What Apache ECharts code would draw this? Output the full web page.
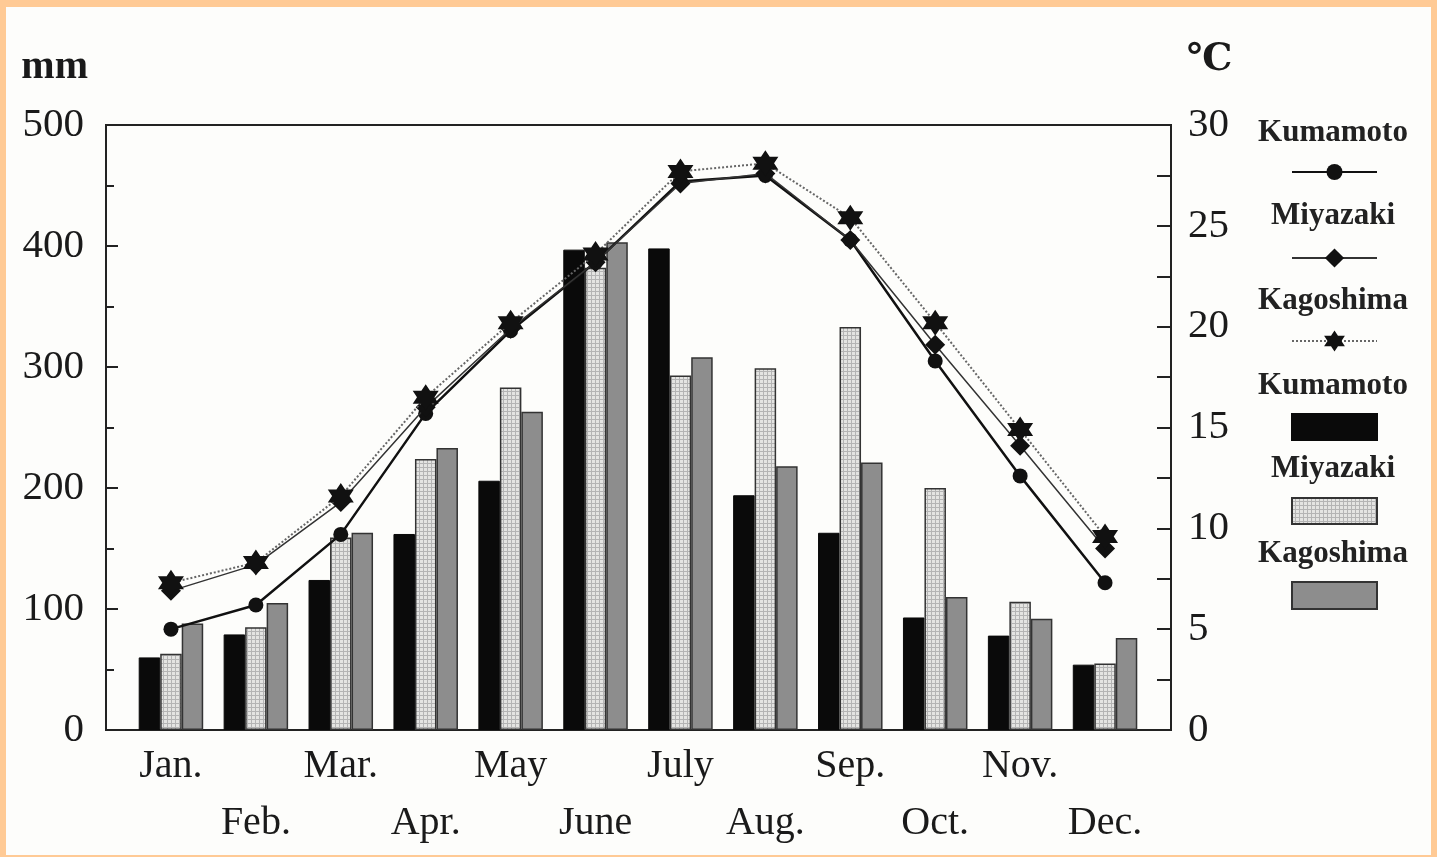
<!DOCTYPE html>
<html lang="en">
<head>
    <meta charset="UTF-8">
    <title>Rainfall and temperature - Kumamoto, Miyazaki, Kagoshima</title>
    <script src="https://cdn.jsdelivr.net/npm/echarts@6/dist/echarts.min.js"></script>
    <style>
        body { margin: 0; background: #ffca95; }
        #paper { position: absolute; left: 6px; top: 7px; width: 1425px; height: 848px; background: #fdfdfb; }
        #main { position: absolute; left: 0; top: 0; width: 1437px; height: 857px; }
    </style>
</head>
<body>
    <div id="paper"></div>
    <div id="main"></div>
    <script>
        // months (x axis)
        var months = ['Jan.', 'Feb.', 'Mar.', 'Apr.', 'May', 'June', 'July', 'Aug.', 'Sep.', 'Oct.', 'Nov.', 'Dec.'];

        // precipitation, mm (bars, left axis)
        var rainKumamoto = [60, 79, 124, 162, 206, 397, 398, 194, 163, 93, 78, 54];
        var rainMiyazaki = [63, 85, 159, 224, 283, 382, 293, 299, 333, 200, 106, 55];
        var rainKagoshima = [88, 105, 163, 233, 263, 403, 308, 218, 221, 110, 92, 76];

        // mean temperature, °C (lines, right axis)
        var tempKumamoto = [5.0, 6.2, 9.7, 15.7, 19.8, 23.2, 27.2, 27.5, 24.3, 18.3, 12.6, 7.3];
        var tempMiyazaki = [6.9, 8.2, 11.3, 16.0, 19.9, 23.2, 27.1, 27.6, 24.3, 19.1, 14.1, 9.0];
        var tempKagoshima = [7.3, 8.3, 11.6, 16.5, 20.2, 23.6, 27.7, 28.1, 25.4, 20.2, 14.9, 9.6];

        var rainTicks = [0, 100, 200, 300, 400, 500];
        var tempTicks = [0, 5, 10, 15, 20, 25, 30];

        var font = '"Liberation Serif", "DejaVu Serif", serif';
        var ink = '#1a1a1a';

        // fine grid fill like the screened bars
        var pat = document.createElement('canvas');
        pat.width = 4; pat.height = 4;
        var pc = pat.getContext('2d');
        pc.fillStyle = '#e4e4e2';
        pc.fillRect(0, 0, 4, 4);
        pc.fillStyle = '#b4b4b4';
        pc.fillRect(0, 3, 4, 1);
        pc.fillRect(3, 0, 1, 4);

        var star = 'path://M0,-10 L2.9,-5 L8.66,-5 L5.8,0 L8.66,5 L2.9,5 L0,10 L-2.9,5 L-8.66,5 L-5.8,0 L-8.66,-5 L-2.9,-5 Z';

        var myChart = echarts.init(document.getElementById('main'));

        function legendBox(name, top, h, icon) {
            var l = {
                data: [name], left: 1291, top: top, padding: 0,
                itemWidth: 85, itemHeight: h, formatter: function () { return ''; },
                selectedMode: false
            };
            if (icon) l.icon = icon;
            return l;
        }

        function label(txt, y) {
            return {
                type: 'text', x: 1333, y: y,
                style: { text: txt, font: 'bold 31px ' + font, fill: '#222', align: 'center', verticalAlign: 'middle' }
            };
        }

        var option = {
            animation: false,
            grid: [
                { left: 106, top: 125, width: 1065, height: 605, show: true, borderColor: '#222', borderWidth: 2, backgroundColor: 'transparent' },
                { left: 128.5, top: 125, width: 1019, height: 605 }
            ],
            xAxis: [
                { gridIndex: 0, type: 'value', min: 0, max: 1, show: false },
                {
                    gridIndex: 1, type: 'category', data: months,
                    axisLine: { show: false }, axisTick: { show: false },
                    axisLabel: {
                        interval: 0, margin: 8, color: ink, fontFamily: font, fontSize: 40, lineHeight: 57,
                        formatter: function (v, i) { return i % 2 ? '\n' + v : v; }
                    }
                }
            ],
            yAxis: [
                {
                    gridIndex: 0, type: 'value', min: rainTicks[0], max: rainTicks[rainTicks.length - 1], interval: 100,
                    name: 'mm', nameLocation: 'end', nameGap: 57,
                    nameTextStyle: { color: ink, fontFamily: font, fontSize: 40, fontWeight: 'bold', align: 'right', verticalAlign: 'middle', padding: [0, 18, 0, 0] },
                    axisLine: { show: true, lineStyle: { color: '#222', width: 2 } },
                    axisTick: { show: true, inside: true, length: 12, lineStyle: { color: '#222', width: 2 } },
                    minorTick: { show: true, splitNumber: 2, length: 8, lineStyle: { color: '#222', width: 2 } },
                    splitLine: { show: false },
                    axisLabel: { margin: 22, color: ink, fontFamily: font, fontSize: 41 }
                },
                {
                    gridIndex: 0, type: 'value', position: 'right', min: tempTicks[0], max: tempTicks[tempTicks.length - 1], interval: 5,
                    name: '℃', nameLocation: 'end', nameGap: 65,
                    nameTextStyle: { color: ink, fontFamily: font, fontSize: 38, fontWeight: 'bold', align: 'left', verticalAlign: 'middle', padding: [0, 0, 0, 16] },
                    axisLine: { show: true, lineStyle: { color: '#222', width: 2 } },
                    axisTick: { show: true, inside: true, length: 14, lineStyle: { color: '#222', width: 2 } },
                    minorTick: { show: true, splitNumber: 2, length: 14, lineStyle: { color: '#222', width: 2 } },
                    splitLine: { show: false },
                    axisLabel: { margin: 17, color: ink, fontFamily: font, fontSize: 41 }
                },
                { gridIndex: 1, type: 'value', min: 0, max: 500, show: false, splitLine: { show: false } },
                { gridIndex: 1, type: 'value', min: 0, max: 30, show: false, splitLine: { show: false } }
            ],
            legend: [
                legendBox('Kumamoto ', 162, 20),
                legendBox('Miyazaki ', 246, 24),
                legendBox('Kagoshima ', 328, 26),
                legendBox('Kumamoto', 413, 26, 'rect'),
                legendBox('Miyazaki', 497, 26, 'rect'),
                legendBox('Kagoshima', 581, 27, 'rect')
            ],
            graphic: [
                label('Kumamoto', 133),
                label('Miyazaki', 216),
                label('Kagoshima', 301),
                label('Kumamoto', 386),
                label('Miyazaki', 469),
                label('Kagoshima', 554)
            ],
            series: [
                {
                    name: 'Kumamoto', type: 'bar', xAxisIndex: 1, yAxisIndex: 2, data: rainKumamoto,
                    barWidth: 21.5, barGap: '0%',
                    itemStyle: { color: '#0a0a0a', borderColor: '#0a0a0a', borderWidth: 1 }
                },
                {
                    name: 'Miyazaki', type: 'bar', xAxisIndex: 1, yAxisIndex: 2, data: rainMiyazaki,
                    barWidth: 21.5, barGap: '0%',
                    itemStyle: { color: { image: pat, repeat: 'repeat' }, borderColor: '#333', borderWidth: 1.5 }
                },
                {
                    name: 'Kagoshima', type: 'bar', xAxisIndex: 1, yAxisIndex: 2, data: rainKagoshima,
                    barWidth: 21.5, barGap: '0%',
                    itemStyle: { color: '#8d8d8d', borderColor: '#333', borderWidth: 1.5 }
                },
                {
                    name: 'Kumamoto ', type: 'line', xAxisIndex: 1, yAxisIndex: 3, data: tempKumamoto, z: 5,
                    symbol: 'circle', symbolSize: 15,
                    lineStyle: { color: '#111', width: 2.5 }, itemStyle: { color: '#111' }
                },
                {
                    name: 'Miyazaki ', type: 'line', xAxisIndex: 1, yAxisIndex: 3, data: tempMiyazaki, z: 6,
                    symbol: 'diamond', symbolSize: 20,
                    lineStyle: { color: '#333', width: 1.5 }, itemStyle: { color: '#111' }
                },
                {
                    name: 'Kagoshima ', type: 'line', xAxisIndex: 1, yAxisIndex: 3, data: tempKagoshima, z: 7,
                    symbol: star, symbolSize: 26,
                    lineStyle: { color: '#666', width: 2, type: 'dotted' }, itemStyle: { color: '#111' }
                }
            ]
        };

        myChart.setOption(option);
    </script>
</body>
</html>
